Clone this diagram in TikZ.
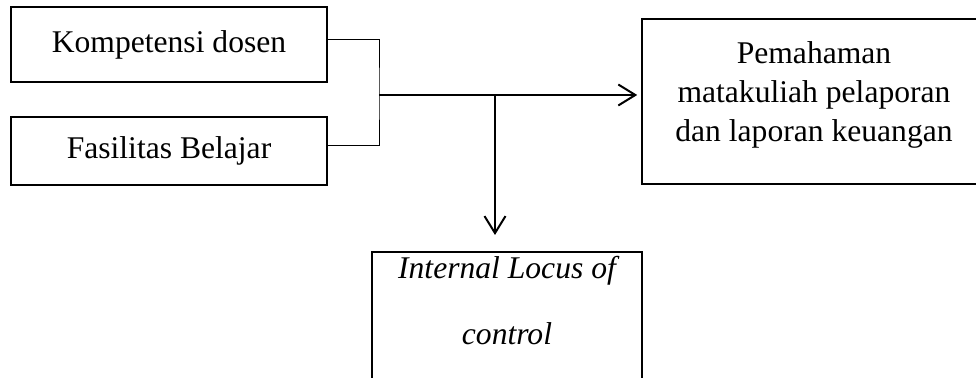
\documentclass[tikz,border=0pt]{standalone}
\usepackage{fontspec}
\setmainfont{Liberation Serif}
\usetikzlibrary{arrows.meta}
\tikzset{
  box/.style={draw, line width=0.8pt, align=center, inner xsep=2pt, inner ysep=2pt,
    font=\fontsize{15.8}{19.5}\selectfont},
  link/.style={line width=0.5pt},
  flow/.style={line width=1pt, -{Straight Barb[length=8.5pt,width=10.5pt,line width=1pt]}}
}
\begin{document}
\begin{tikzpicture}[x=0.5pt,y=-0.5pt]
\useasboundingbox (0,0) rectangle (976,378);
\clip (0,0) rectangle (976,378);
\node[box, minimum width=158pt, minimum height=37.5pt] (kd) at (169,44.5) {Kompetensi dosen};
\node[box, minimum width=158pt, minimum height=34pt] (fb) at (169,151) {Fasilitas Belajar};
\node[box, minimum width=172pt, minimum height=82.5pt] (pm) at (814,101.5)
  {Pemahaman\\matakuliah pelaporan\\dan laporan keuangan\rule[-10pt]{0pt}{10pt}};
\node[box, anchor=north, minimum width=135pt, font=\fontsize{15.8}{33}\selectfont\itshape] (ilc) at (507,251)
  {Internal Locus of\\control\rule[-30pt]{0pt}{30pt}};
\coordinate (jn) at (379,95);
\coordinate (tee) at (495,95);
\draw[link] ([yshift=2.5pt]kd.east) -| (jn) |- ([yshift=2.5pt]fb.east);
\draw[flow, shorten >=2pt] (jn) -- (jn -| pm.west);
\draw[flow, shorten >=8pt] (tee) -- (tee |- ilc.north);
\end{tikzpicture}
\end{document}
